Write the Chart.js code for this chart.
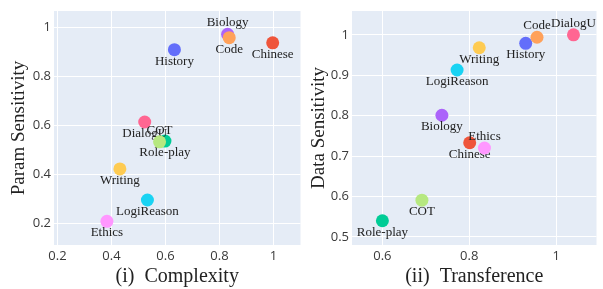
<!DOCTYPE html>
<html>
<head>
<meta charset="utf-8">
<script src="https://cdn.jsdelivr.net/npm/chart.js@4.4.0/dist/chart.umd.min.js"></script>
<style>
    html, body { margin: 0; padding: 0; background: #fff; }
    #wrap { position: relative; width: 603px; height: 289px; overflow: hidden; }
    .panel { position: absolute; top: 0; height: 289px; }
    #left { left: 0; width: 307px; }
    #right { left: 300px; width: 303px; }
</style>
</head>
<body>
<div id="wrap">
    <div class="panel" id="left"><canvas id="chart-left" width="307" height="289"></canvas></div>
    <div class="panel" id="right"><canvas id="chart-right" width="303" height="289"></canvas></div>
</div>
<script>
// Tasks, in plotly trace order (later ones are drawn on top)
const tasks = ["History", "Chinese", "Role-play", "Biology", "Code", "LogiReason", "DialogU", "COT", "Ethics", "Writing"];
const colors = ["#636EFA", "#EF553B", "#00CC96", "#AB63FA", "#FFA15A", "#19D3F3", "#FF6692", "#B6E880", "#FF97FF", "#FECB52"];

// (i) Complexity vs Param Sensitivity
const complexity = [0.633, 0.997, 0.598, 0.830, 0.836, 0.533, 0.523, 0.578, 0.383, 0.431];
const paramSensitivity = [0.910, 0.938, 0.536, 0.973, 0.959, 0.295, 0.614, 0.533, 0.208, 0.422];

// (ii) Transference vs Data Sensitivity
const transference = [0.930, 0.801, 0.600, 0.737, 0.956, 0.772, 1.040, 0.691, 0.835, 0.823];
const dataSensitivity = [0.979, 0.733, 0.540, 0.801, 0.994, 0.913, 1.000, 0.591, 0.720, 0.968];

// tick values
const leftXTicks = [0.2, 0.4, 0.6, 0.8, 1];
const leftYTicks = [0.2, 0.4, 0.6, 0.8, 1];
const rightXTicks = [0.6, 0.8, 1];
const rightYTicks = [0.5, 0.6, 0.7, 0.8, 0.9, 1];

// which labels sit above their marker (others go below)
const leftAbove = ["Biology", "COT"];
const rightAbove = ["Code", "DialogU", "Ethics"];

const textColor = "#222222";
const tickColor = "#3a3a3a";
const tickFont = { family: "'Open Sans', sans-serif", size: 13 };
const serif = "'Liberation Serif', 'Times New Roman', serif";

// fill the plot area like plotly's default template
const plotBackground = {
    id: "plotBackground",
    beforeDraw(chart) {
        const a = chart.chartArea;
        const ctx = chart.ctx;
        ctx.save();
        ctx.fillStyle = "#E5ECF6";
        ctx.fillRect(a.left, a.top, a.right - a.left, a.bottom - a.top);
        ctx.restore();
    }
};

// draw each task name right after its own marker
const pointText = {
    id: "pointText",
    afterDatasetDraw(chart, args) {
        const ds = chart.data.datasets[args.index];
        const pt = args.meta.data[0];
        const above = chart.options.plugins.pointText.above.includes(ds.label);
        const ctx = chart.ctx;
        ctx.save();
        ctx.font = "13px " + serif;
        ctx.fillStyle = textColor;
        ctx.textAlign = "center";
        ctx.textBaseline = "middle";
        ctx.fillText(ds.label, pt.x, pt.y + (above ? -11.5 : 11.5));
        ctx.restore();
    }
};

function makeDatasets(xs, ys) {
    return tasks.map((name, i) => ({
        label: name,
        data: [{ x: xs[i], y: ys[i] }],
        backgroundColor: colors[i],
        borderWidth: 0,
        pointRadius: 6.5,
        pointHoverRadius: 6.5,
        order: -i
    }));
}

function axis(min, max, tickValues, extra) {
    return Object.assign({
        type: "linear",
        min: min,
        max: max,
        afterBuildTicks: scale => {
            scale.ticks = tickValues.map(v => ({ value: v }));
        },
        grid: { color: "#ffffff", lineWidth: 1, drawTicks: false },
        border: { display: false }
    }, extra);
}

function makeChart(canvasId, xs, ys, cfg) {
    const ctx = document.getElementById(canvasId).getContext("2d");
    return new Chart(ctx, {
        type: "scatter",
        data: { datasets: makeDatasets(xs, ys) },
        plugins: [plotBackground, pointText],
        options: {
            responsive: false,
            animation: false,
            events: [],
            layout: { padding: { top: 11, right: 0, bottom: 0, left: 0 } },
            plugins: {
                legend: { display: false },
                tooltip: { enabled: false },
                pointText: { above: cfg.above }
            },
            scales: {
                x: axis(cfg.xRange[0], cfg.xRange[1], cfg.xTicks, {
                    afterFit: scale => { scale.height = 44; },
                    ticks: { font: tickFont, color: tickColor, maxRotation: 0, padding: 3, callback: v => String(v) },
                    title: {
                        display: true,
                        text: cfg.xTitle,
                        color: textColor,
                        font: { family: serif, size: 20 },
                        padding: { top: 0, bottom: 0 }
                    }
                }),
                y: axis(cfg.yRange[0], cfg.yRange[1], cfg.yTicks, {
                    afterFit: scale => { scale.width = cfg.yWidth; },
                    ticks: { font: tickFont, color: tickColor, padding: 3, callback: v => String(v) },
                    title: {
                        display: true,
                        text: cfg.yTitle,
                        color: textColor,
                        font: { family: serif, size: 19 },
                        padding: { top: cfg.yTitlePad, bottom: 0 }
                    }
                })
            }
        }
    });
}

makeChart("chart-left", complexity, paramSensitivity, {
    xRange: [0.187, 1.1],
    yRange: [0.111, 1.068],
    xTicks: leftXTicks,
    yTicks: leftYTicks,
    xTitle: "(i)  Complexity",
    yTitle: "Param Sensitivity",
    yWidth: 54,
    yTitlePad: 8,
    above: leftAbove
});

makeChart("chart-right", transference, dataSensitivity, {
    xRange: [0.530, 1.093],
    yRange: [0.480, 1.059],
    xTicks: rightXTicks,
    yTicks: rightYTicks,
    xTitle: "(ii)  Transference",
    yTitle: "Data Sensitivity",
    yWidth: 52,
    yTitlePad: 8,
    above: rightAbove
});
</script>
</body>
</html>
